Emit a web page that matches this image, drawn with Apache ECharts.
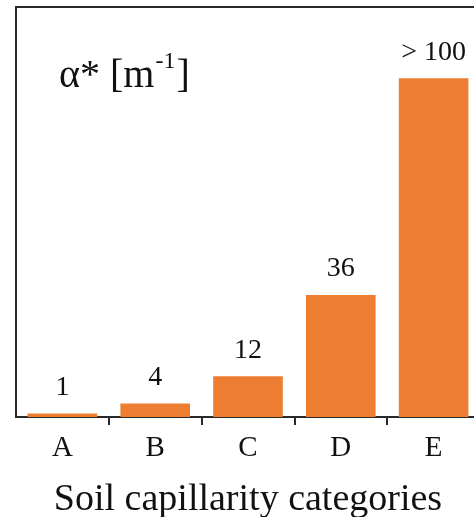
<!DOCTYPE html>
<html>
<head>
<meta charset="utf-8">
<script src="https://cdn.jsdelivr.net/npm/echarts@6/dist/echarts.min.js"></script>
<style>html,body{margin:0;padding:0;background:#fff}#c{width:474px;height:517px}</style>
</head>
<body>
<div id="c"></div>
<script>
var categories = ['A', 'B', 'C', 'D', 'E'];
var values = [1, 4, 12, 36, 100];
var valueLabels = ['1', '4', '12', '36', '> 100'];
var axisTitle = 'Soil capillarity categories';

var chart = echarts.init(document.getElementById('c'));
var serif = '"Liberation Serif", "Times New Roman", serif';
chart.setOption({
  animation: false,
  title: {
    left: 54, top: 45,
    text: '{a|α* [m}{s|-1}{a|]}',
    textStyle: {
      fontWeight: 'normal',
      rich: {
        a: { fontFamily: serif, fontSize: 40, fontWeight: 'normal', color: '#111', lineHeight: 46, verticalAlign: 'bottom' },
        s: { fontFamily: serif, fontSize: 24, fontWeight: 'normal', color: '#111', lineHeight: 46, verticalAlign: 'top', padding: [0, 1, 0, 1] }
      }
    }
  },
  grid: {
    left: 16, top: 7, width: 464, bottom: 100,
    containLabel: false, outerBoundsMode: 'none',
    show: true, borderColor: '#2a2a2a', borderWidth: 2, backgroundColor: 'transparent'
  },
  xAxis: {
    type: 'category',
    data: categories,
    axisLine: { lineStyle: { color: '#2a2a2a', width: 2 } },
    axisTick: { show: true, length: 8, lineStyle: { color: '#2a2a2a', width: 2 },
      interval: function (i) { return i !== 0; } },
    axisLabel: { fontFamily: serif, fontSize: 29, color: '#111', margin: 17 },
    name: axisTitle,
    nameLocation: 'middle',
    nameGap: 64,
    nameTextStyle: { fontFamily: serif, fontSize: 38, color: '#111' }
  },
  yAxis: {
    type: 'value', min: 0, max: 121,
    axisLine: { show: true, lineStyle: { color: '#2a2a2a', width: 2 } },
    axisTick: { show: false },
    axisLabel: { show: false },
    splitLine: { show: false }
  },
  series: [{
    type: 'bar',
    data: values,
    barCategoryGap: '25%',
    itemStyle: { color: '#ED7D31' },
    label: {
      show: true, position: 'top', distance: 12,
      fontFamily: serif, fontSize: 28, color: '#111',
      formatter: function (p) { return valueLabels[p.dataIndex]; }
    }
  }]
});
</script>
</body>
</html>
